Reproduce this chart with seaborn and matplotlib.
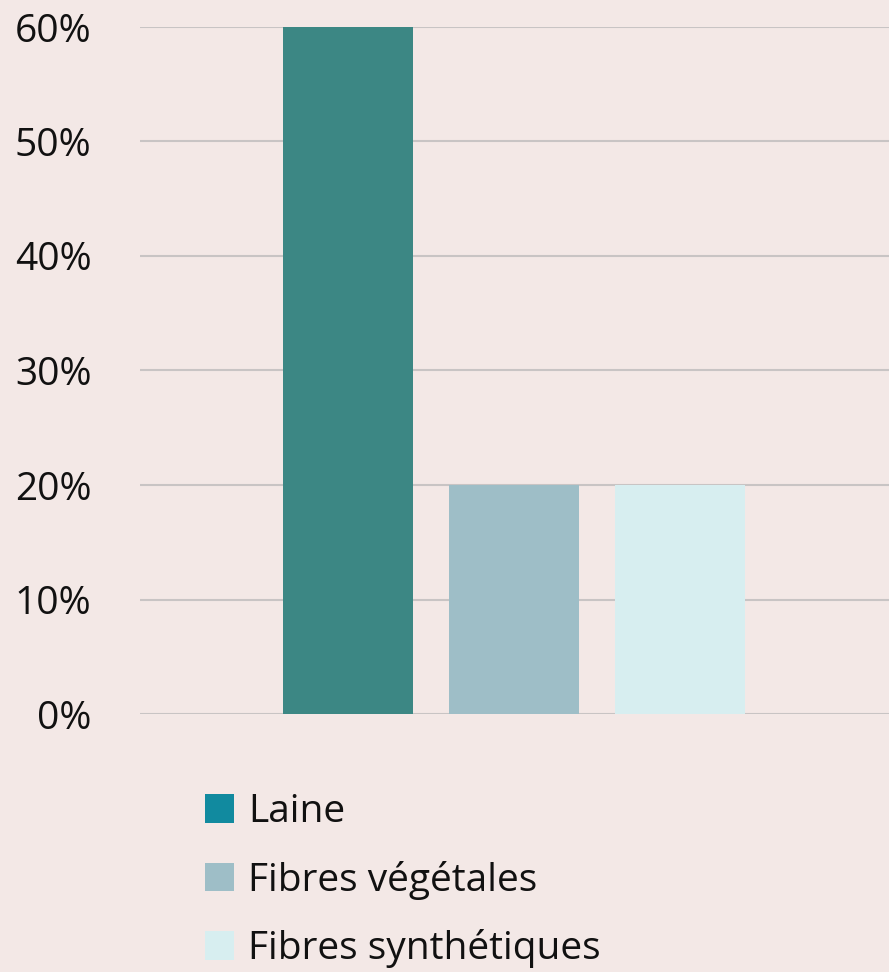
import matplotlib
matplotlib.use("Agg")
import matplotlib.pyplot as plt
import seaborn as sns
import pandas as pd
from matplotlib.patches import Patch

categories = ["Laine", "Fibres végétales", "Fibres synthétiques"]
values = [0.60, 0.20, 0.20]
bar_colors = ["#3c8784", "#9ebec7", "#d7eef0"]
legend_colors = ["#118a9f", "#9ebec7", "#d7eef0"]
yticks = [0, 0.1, 0.2, 0.3, 0.4, 0.5, 0.6]
ytick_labels = ["0%", "10%", "20%", "30%", "40%", "50%", "60%"]

bg = "#f3e8e6"
sns.set_theme(style="white")
plt.rcParams["font.family"] = ["Open Sans", "DejaVu Sans"]

W, H = 889, 972
fig = plt.figure(figsize=(W / 100, H / 100), dpi=100, facecolor=bg)
ax = fig.add_axes([140 / W, 1 - 714 / H, (889 - 140) / W, (714 - 27) / H])
ax.set_facecolor(bg)

df = pd.DataFrame({"cat": categories, "val": values})
sns.barplot(data=df, x="cat", y="val", hue="cat", palette=bar_colors,
            width=0.783, ax=ax, legend=False, saturation=1, zorder=3)
for p in ax.patches:
    p.set_edgecolor("none")

ax.set_ylim(0, 0.6)
ax.set_xlim(-1.253, 3.259)
ax.set_yticks(yticks)
ax.set_yticklabels(ytick_labels, fontsize=28, color="#111111")
ax.set_xticks([])
ax.set_xlabel("")
ax.set_ylabel("")
ax.tick_params(axis="y", length=0, pad=35)
ax.yaxis.grid(True, color="#c8c4c4", linewidth=1.5, zorder=0)
ax.set_axisbelow(True)
for s in ax.spines.values():
    s.set_visible(False)

handles = [Patch(facecolor=c, edgecolor="none") for c in legend_colors]
leg = fig.legend(handles, categories, loc="upper left",
                 bbox_to_anchor=(205 / W, 1 - 793 / H), frameon=False,
                 fontsize=28, handlelength=0.75, handleheight=0.75,
                 handletextpad=0.36, labelspacing=0.76, borderpad=0,
                 borderaxespad=0)
for t in leg.get_texts():
    t.set_color("#111111")

fig.savefig("out.png", dpi=100, facecolor=bg)
